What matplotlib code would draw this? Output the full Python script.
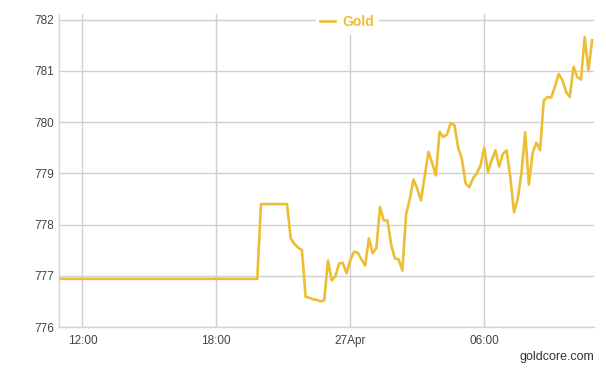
import pandas as pd
import matplotlib
matplotlib.use('Agg')
from matplotlib import pyplot as plt
from matplotlib.ticker import FixedLocator, FixedFormatter
import matplotlib.dates as mdates

# data (10 minute prices)
times = ['2016-04-26 11:00', '2016-04-26 19:50', '2016-04-26 20:00', '2016-04-26 21:10',
         '2016-04-26 21:20', '2016-04-26 21:30', '2016-04-26 21:40', '2016-04-26 21:50',
         '2016-04-26 22:00', '2016-04-26 22:10', '2016-04-26 22:20', '2016-04-26 22:30',
         '2016-04-26 22:40', '2016-04-26 22:50', '2016-04-26 23:00', '2016-04-26 23:10',
         '2016-04-26 23:20', '2016-04-26 23:30', '2016-04-26 23:40', '2016-04-26 23:50',
         '2016-04-27 00:00', '2016-04-27 00:10', '2016-04-27 00:20', '2016-04-27 00:30',
         '2016-04-27 00:40', '2016-04-27 00:50', '2016-04-27 01:00', '2016-04-27 01:10',
         '2016-04-27 01:20', '2016-04-27 01:30', '2016-04-27 01:40', '2016-04-27 01:50',
         '2016-04-27 02:00', '2016-04-27 02:10', '2016-04-27 02:20', '2016-04-27 02:30',
         '2016-04-27 02:40', '2016-04-27 02:50', '2016-04-27 03:00', '2016-04-27 03:10',
         '2016-04-27 03:20', '2016-04-27 03:30', '2016-04-27 03:40', '2016-04-27 03:50',
         '2016-04-27 04:00', '2016-04-27 04:10', '2016-04-27 04:20', '2016-04-27 04:30',
         '2016-04-27 04:40', '2016-04-27 04:50', '2016-04-27 05:00', '2016-04-27 05:10',
         '2016-04-27 05:20', '2016-04-27 05:30', '2016-04-27 05:40', '2016-04-27 05:50',
         '2016-04-27 06:00', '2016-04-27 06:10', '2016-04-27 06:20', '2016-04-27 06:30',
         '2016-04-27 06:40', '2016-04-27 06:50', '2016-04-27 07:00', '2016-04-27 07:10',
         '2016-04-27 07:20', '2016-04-27 07:30', '2016-04-27 07:40', '2016-04-27 07:50',
         '2016-04-27 08:00', '2016-04-27 08:10', '2016-04-27 08:20', '2016-04-27 08:30',
         '2016-04-27 08:40', '2016-04-27 08:50', '2016-04-27 09:00', '2016-04-27 09:10',
         '2016-04-27 09:20', '2016-04-27 09:30', '2016-04-27 09:40', '2016-04-27 09:50',
         '2016-04-27 10:00', '2016-04-27 10:10', '2016-04-27 10:20', '2016-04-27 10:30',
         '2016-04-27 10:40', '2016-04-27 10:50']
gold = [776.94, 776.94, 778.40, 778.40,
        777.73, 777.62, 777.55, 777.50,
        776.59, 776.57, 776.54, 776.53,
        776.50, 776.52, 777.30, 776.91,
        776.99, 777.24, 777.25, 777.05,
        777.30, 777.47, 777.45, 777.32,
        777.20, 777.73, 777.44, 777.54,
        778.34, 778.08, 778.08, 777.60,
        777.34, 777.32, 777.10, 778.20,
        778.50, 778.88, 778.70, 778.47,
        778.95, 779.42, 779.20, 778.96,
        779.81, 779.71, 779.76, 779.98,
        779.94, 779.50, 779.28, 778.80,
        778.73, 778.90, 779.00, 779.15,
        779.50, 779.03, 779.25, 779.45,
        779.13, 779.38, 779.45, 778.93,
        778.24, 778.50, 779.00, 779.80,
        778.78, 779.40, 779.60, 779.45,
        780.42, 780.49, 780.48, 780.69,
        780.94, 780.82, 780.59, 780.49,
        781.08, 780.88, 780.83, 781.66,
        781.01, 781.60]

xtick_times = ['2016-04-26 12:00', '2016-04-26 18:00', '2016-04-27 00:00', '2016-04-27 06:00']
xtick_labels = ['12:00', '18:00', '27Apr', '06:00']
yticks = [776, 777, 778, 779, 780, 781, 782]

plt.rcParams['font.family'] = ['Liberation Sans', 'DejaVu Sans']

x = pd.to_datetime(times)
fig = plt.figure(figsize=(6.06, 3.68), dpi=100)
ax = fig.add_axes([59.3 / 606, 1 - 327 / 368, (594 - 59.3) / 606, (327 - 14) / 368])

ax.plot(x, gold, color='#EDBE35', lw=1.9, label='Gold', zorder=3)

# 軸の範囲
ax.set_xlim(pd.Timestamp('2016-04-26 10:58'), pd.Timestamp('2016-04-27 10:55'))
ax.set_ylim(776, 782.11)

xt = mdates.date2num(pd.to_datetime(xtick_times))
ax.xaxis.set_major_locator(FixedLocator(xt))
ax.xaxis.set_major_formatter(FixedFormatter(xtick_labels))
ax.set_yticks(yticks)
ax.set_yticklabels([str(v) for v in yticks])

ax.grid(True, color='#cfcfcf', lw=1)
ax.set_axisbelow(True)
for s in ['top', 'right']:
    ax.spines[s].set_visible(False)
for s in ['left', 'bottom']:
    ax.spines[s].set_color('#d4d4d4')
    ax.spines[s].set_linewidth(1)
ax.tick_params(axis='both', length=0, labelsize=8.5, labelcolor='#444444')
ax.tick_params(axis='x', pad=6)
ax.tick_params(axis='y', pad=4)

leg = ax.legend(loc='upper center', bbox_to_anchor=(0.538, 1.01), frameon=True,
                facecolor='white', edgecolor='white', framealpha=1,
                handlelength=1.1, handletextpad=0.5, borderpad=0.3,
                borderaxespad=0, prop={'weight': 'bold', 'size': 10})
for t in leg.get_texts():
    t.set_color('#EDBE35')

fig.text(594 / 606, 1 - 357 / 368, 'goldcore.com', ha='right', va='center',
         fontsize=9, color='#333333')

plt.savefig('out.png', dpi=100)
